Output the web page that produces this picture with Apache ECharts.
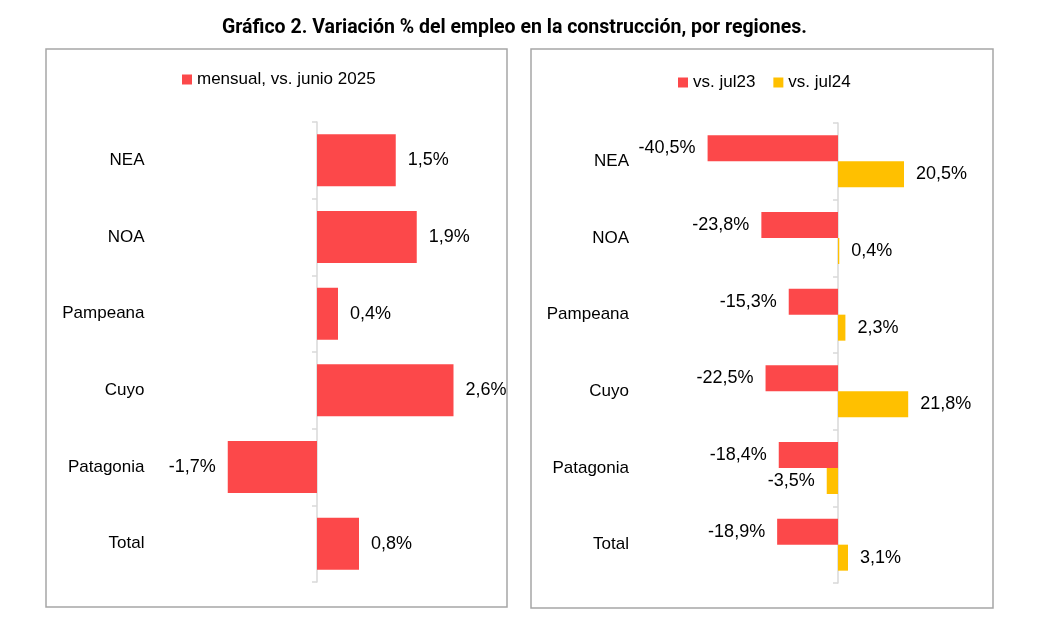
<!DOCTYPE html>
<html>
<head>
<meta charset="utf-8">
<script src="https://cdn.jsdelivr.net/npm/echarts@6/dist/echarts.min.js"></script>
<style>
    html, body { margin: 0; padding: 0; background: #fff; }
    #chart { width: 1042px; height: 630px; }
</style>
</head>
<body>
<div id="chart"></div>
<script>
// regiones
const regions = ["NEA", "NOA", "Pampeana", "Cuyo", "Patagonia", "Total"];
// variación mensual vs. junio 2025 (%)
const mensual = [1.5, 1.9, 0.4, 2.6, -1.7, 0.8];
// variación interanual (%)
const vsJul23 = [-40.5, -23.8, -15.3, -22.5, -18.4, -18.9];
const vsJul24 = [20.5, 0.4, 2.3, 21.8, -3.5, 3.1];

const RED = "#fc484a";
const YELLOW = "#ffc000";
const FONT = "Liberation Sans";

const chart = echarts.init(document.getElementById("chart"));

// formato 1,5%
function fmt(v) {
    return v.toFixed(1).replace(".", ",") + "%";
}

// datos con etiqueta a la izquierda si es negativo
function withLabels(arr) {
    return arr.map(v => ({
        value: v,
        label: { position: v < 0 ? "left" : "right" },
    }));
}

const labelStyle = {
    show: true,
    distance: 12,
    color: "#000",
    fontFamily: FONT,
    fontSize: 18,
    formatter: p => fmt(p.value),
};

function catAxis(gridIndex, margin) {
    return {
        type: "category",
        gridIndex,
        data: regions,
        inverse: true,
        axisLine: { onZero: true, lineStyle: { color: "#d9d9d9", width: 1.5 } },
        axisTick: { show: true, length: 5, lineStyle: { color: "#d9d9d9", width: 1.5 } },
        axisLabel: { margin, color: "#000", fontFamily: FONT, fontSize: 17 },
    };
}

function valAxis(gridIndex, min, max) {
    return {
        type: "value",
        gridIndex,
        min,
        max,
        show: false,
        splitLine: { show: false },
    };
}

chart.setOption({
    animation: false,
    title: {
        text: "Gráfico 2. Variación % del empleo en la construcción, por regiones.",
        left: 217,
        top: 13,
        textStyle: { fontFamily: "Roboto", fontWeight: "bold", fontSize: 19.5, color: "#000" },
    },
    graphic: [
        { type: "rect", shape: { x: 46, y: 49, width: 461, height: 558 }, style: { fill: "none", stroke: "#a6a6a6", lineWidth: 1.5 } },
        { type: "rect", shape: { x: 531, y: 49, width: 462, height: 559 }, style: { fill: "none", stroke: "#a6a6a6", lineWidth: 1.5 } },
    ],
    legend: [
        {
            data: ["mensual, vs. junio 2025"],
            left: 177,
            top: 66,
            icon: "rect",
            itemWidth: 10,
            itemHeight: 10,
            textStyle: { fontFamily: FONT, fontSize: 17, color: "#000" },
        },
        {
            data: ["vs. jul23", "vs. jul24"],
            left: 673,
            top: 69,
            icon: "rect",
            itemWidth: 10,
            itemHeight: 10,
            itemGap: 18,
            textStyle: { fontFamily: FONT, fontSize: 17, color: "#000" },
        },
    ],
    grid: [
        { left: 159.5, top: 122, width: 315, height: 460, outerBoundsMode: "none" },
        { left: 677, top: 123, width: 257.6, height: 460, outerBoundsMode: "none" },
    ],
    xAxis: [valAxis(0, -3, 3), valAxis(1, -50, 30)],
    yAxis: [catAxis(0, 15), catAxis(1, 48)],
    series: [
        {
            name: "mensual, vs. junio 2025",
            type: "bar",
            xAxisIndex: 0,
            yAxisIndex: 0,
            barWidth: 52,
            itemStyle: { color: RED },
            label: labelStyle,
            data: withLabels(mensual),
        },
        {
            name: "vs. jul23",
            type: "bar",
            xAxisIndex: 1,
            yAxisIndex: 1,
            barWidth: 26,
            barGap: "0%",
            itemStyle: { color: RED },
            label: labelStyle,
            data: withLabels(vsJul23),
        },
        {
            name: "vs. jul24",
            type: "bar",
            xAxisIndex: 1,
            yAxisIndex: 1,
            barWidth: 26,
            barGap: "0%",
            itemStyle: { color: YELLOW },
            label: labelStyle,
            data: withLabels(vsJul24),
        },
    ],
});
</script>
</body>
</html>
